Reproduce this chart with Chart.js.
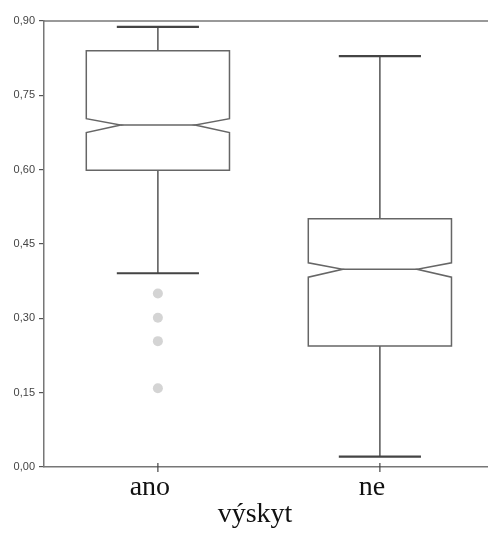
<!DOCTYPE html>
<html>
<head>
<meta charset="utf-8">
<script src="https://cdn.jsdelivr.net/npm/chart.js@4"></script>
<style>
html,body{margin:0;padding:0;background:#fff;}
#wrap{width:488px;height:536px;position:relative;}
</style>
</head>
<body>
<div id="wrap"><canvas id="c" width="488" height="536"></canvas></div>
<script>
const categories = ['ano', 'ne'];
const whiskerLow = [0.391, 0.021];
const q1 = [0.599, 0.244];
const median = [0.690, 0.399];
const q3 = [0.840, 0.501];
const whiskerHigh = [0.888, 0.829];
const notchLow = [0.675, 0.383];
const notchHigh = [0.703, 0.412];
const outliersAno = [0.350, 0.301, 0.254, 0.159];
const outliersNe = [];
const yTicks = [0, 0.15, 0.30, 0.45, 0.60, 0.75, 0.90];
const xTitle = 'výskyt';

const BOX_FRAC = 0.645;
const NOTCH_FRAC = 0.155;
const CAP_FRAC = 0.37;

const boxPlugin = {
  id: 'boxes',
  afterDatasetsDraw(chart) {
    const ctx = chart.ctx;
    const xs = chart.scales.x, ys = chart.scales.y;
    const unit = Math.abs(xs.getPixelForValue(1) - xs.getPixelForValue(0));
    ctx.save();
    const area = chart.chartArea;
    // top frame line
    ctx.strokeStyle = '#777';
    ctx.lineWidth = 1.5;
    ctx.beginPath();
    ctx.moveTo(area.left, ys.getPixelForValue(0.9));
    ctx.lineTo(chart.width, ys.getPixelForValue(0.9));
    ctx.stroke();
    // x ticks crossing axis
    ctx.strokeStyle = '#444';
    ctx.lineWidth = 1.2;
    categories.forEach((c, i) => {
      const x = xs.getPixelForValue(i);
      const yb = ys.getPixelForValue(0);
      ctx.beginPath();
      ctx.moveTo(x, yb - 4);
      ctx.lineTo(x, yb + 5);
      ctx.stroke();
    });
    categories.forEach((c, i) => {
      const cx = xs.getPixelForValue(i);
      const hw = unit * BOX_FRAC / 2;
      const ni = unit * NOTCH_FRAC;
      const cw = unit * CAP_FRAC / 2;
      const L = cx - hw, R = cx + hw;
      const yQ1 = ys.getPixelForValue(q1[i]);
      const yQ3 = ys.getPixelForValue(q3[i]);
      const yM = ys.getPixelForValue(median[i]);
      const yNL = ys.getPixelForValue(notchLow[i]);
      const yNH = ys.getPixelForValue(notchHigh[i]);
      const yWL = ys.getPixelForValue(whiskerLow[i]);
      const yWH = ys.getPixelForValue(whiskerHigh[i]);
      // whiskers
      ctx.strokeStyle = '#555';
      ctx.lineWidth = 1.5;
      ctx.beginPath();
      ctx.moveTo(cx, yQ3); ctx.lineTo(cx, yWH);
      ctx.moveTo(cx, yQ1); ctx.lineTo(cx, yWL);
      ctx.stroke();
      // caps
      ctx.strokeStyle = '#444';
      ctx.lineWidth = 2.2;
      ctx.beginPath();
      ctx.moveTo(cx - cw, yWH); ctx.lineTo(cx + cw, yWH);
      ctx.moveTo(cx - cw, yWL); ctx.lineTo(cx + cw, yWL);
      ctx.stroke();
      // notched box
      ctx.strokeStyle = '#666';
      ctx.lineWidth = 1.5;
      ctx.fillStyle = '#fff';
      ctx.beginPath();
      ctx.moveTo(L, yQ3);
      ctx.lineTo(R, yQ3);
      ctx.lineTo(R, yNH);
      ctx.lineTo(R - ni, yM);
      ctx.lineTo(R, yNL);
      ctx.lineTo(R, yQ1);
      ctx.lineTo(L, yQ1);
      ctx.lineTo(L, yNL);
      ctx.lineTo(L + ni, yM);
      ctx.lineTo(L, yNH);
      ctx.closePath();
      ctx.fill();
      ctx.stroke();
      // median
      ctx.beginPath();
      ctx.moveTo(L + ni, yM); ctx.lineTo(R - ni, yM);
      ctx.stroke();
    });
    // x axis title
    ctx.fillStyle = '#111';
    ctx.font = '28px "Liberation Serif"';
    ctx.textAlign = 'center';
    ctx.textBaseline = 'alphabetic';
    ctx.fillText(xTitle, (area.left + area.right) / 2 - 11, 522);
    ctx.restore();
  }
};

const outlierData = [];
outliersAno.forEach(v => outlierData.push({x: 0, y: v}));
outliersNe.forEach(v => outlierData.push({x: 1, y: v}));

new Chart(document.getElementById('c'), {
  type: 'scatter',
  data: {
    datasets: [{
      data: outlierData,
      pointRadius: 5,
      pointBackgroundColor: '#d4d4d4',
      pointBorderColor: '#d4d4d4',
      pointBorderWidth: 0
    }]
  },
  options: {
    responsive: false,
    animation: false,
    events: [],
    layout: { autoPadding: false, padding: { top: 21, right: 0, left: 0, bottom: 0 } },
    plugins: { legend: { display: false }, tooltip: { enabled: false } },
    scales: {
      x: {
        type: 'linear',
        min: -0.513,
        max: 1.487,
        afterBuildTicks: (s) => { s.ticks = categories.map((c, i) => ({ value: i })); },
        afterFit: (s) => { s.height = 69; },
        grid: { display: false, drawTicks: false, tickLength: 0 },
        border: { display: true, color: '#777', width: 1.5 },
        ticks: {
          callback: (v) => categories[v] !== undefined ? categories[v] : '',
          font: { family: 'Liberation Serif', size: 28 },
          color: '#111',
          padding: 4,
          labelOffset: -8,
          maxRotation: 0,
          autoSkip: false
        },
        title: { display: false }
      },
      y: {
        min: 0,
        max: 0.9,
        afterBuildTicks: (s) => { s.ticks = yTicks.map(v => ({ value: v })); },
        afterFit: (s) => { s.width = 44; },
        grid: { display: true, drawOnChartArea: false, drawTicks: true, tickLength: 5, color: '#555', lineWidth: 1.2 },
        border: { display: true, color: '#777', width: 1.5 },
        ticks: {
          callback: (v) => v.toFixed(2).replace('.', ','),
          font: { family: 'Liberation Sans', size: 11 },
          color: '#444',
          padding: 4
        }
      }
    }
  },
  plugins: [boxPlugin]
});
</script>
</body>
</html>
